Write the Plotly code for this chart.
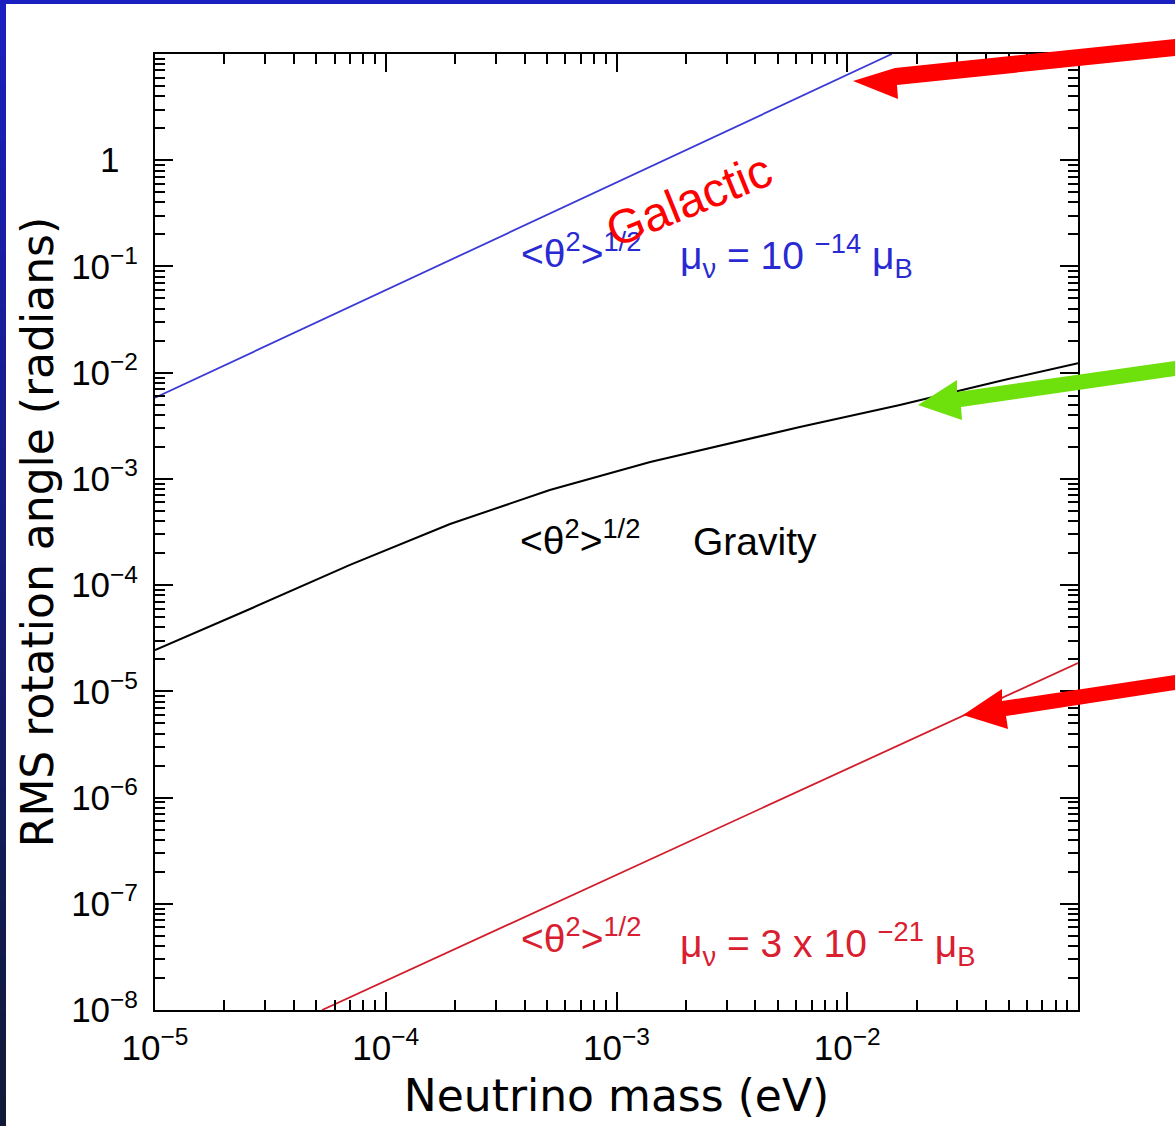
import plotly.graph_objects as go

# ---------------- data ----------------
galactic_mass = [1e-5, 1.56e-2]
galactic_theta = [5.8e-3, 10.0]

gravity_mass = [1e-5, 2.58e-5, 7.0e-5, 1.9e-4, 5.14e-4, 1.4e-3, 6.23e-3, 1.69e-2, 4.58e-2, 1e-1]
gravity_theta = [2.45e-5, 5.96e-5, 1.55e-4, 3.76e-4, 7.85e-4, 1.44e-3, 3.08e-3, 4.96e-3, 8.35e-3, 1.23e-2]

magnetic_mass = [5.3e-5, 1e-1]
magnetic_theta = [1e-8, 1.85e-5]

x_tickvals = [1e-5, 1e-4, 1e-3, 1e-2, 1e-1]
x_ticktext = ["10<sup>\u22125</sup>", "10<sup>\u22124</sup>", "10<sup>\u22123</sup>", "10<sup>\u22122</sup>", ""]
y_tickvals = [1e-8, 1e-7, 1e-6, 1e-5, 1e-4, 1e-3, 1e-2, 1e-1, 1, 10]
y_ticktext = ["10<sup>\u22128</sup>", "10<sup>\u22127</sup>", "10<sup>\u22126</sup>", "10<sup>\u22125</sup>",
              "10<sup>\u22124</sup>", "10<sup>\u22123</sup>", "10<sup>\u22122</sup>", "10<sup>\u22121</sup>",
              "1<sup>\u2007\u2009</sup>", ""]
x_minor = [m * 10.0 ** e for e in range(-5, -1) for m in range(2, 10)]
y_minor = [m * 10.0 ** e for e in range(-8, 1) for m in range(2, 10)]

# ---------------- layout geometry ----------------
W, H = 1175, 1126
L, R, T, B = 155, 1078, 54, 1010


def px(xp, yp):
    return (xp - L) / (R - L), (B - yp) / (B - T)


fig = go.Figure()
fig.add_trace(go.Scatter(x=galactic_mass, y=galactic_theta, mode="lines",
                         line=dict(color="#3a3ad6", width=1.8), showlegend=False))
fig.add_trace(go.Scatter(x=gravity_mass, y=gravity_theta, mode="lines",
                         line=dict(color="black", width=2), showlegend=False))
fig.add_trace(go.Scatter(x=magnetic_mass, y=magnetic_theta, mode="lines",
                         line=dict(color="#d21c2a", width=1.8), showlegend=False))

shapes = []
# slide frame: top band and left gradient strip
x0, y0 = px(0, 0)
x1, y1 = px(W, 4)
shapes.append(dict(type="rect", xref="paper", yref="paper", x0=x0, x1=x1, y0=y1, y1=y0,
                   fillcolor="#1b1fbf", line=dict(width=0), layer="above"))
n = 40
c_top = (27, 31, 191)
c_bot = (16, 26, 54)
for i in range(n):
    t = i / (n - 1)
    c = tuple(int(round(c_top[k] + (c_bot[k] - c_top[k]) * t)) for k in range(3))
    ya = H * i / n
    yb = H * (i + 1) / n + 1
    ax0, ay0 = px(0, ya)
    ax1, ay1 = px(6, yb)
    shapes.append(dict(type="rect", xref="paper", yref="paper", x0=ax0, x1=ax1, y0=ay1, y1=ay0,
                       fillcolor="rgb(%d,%d,%d)" % c, line=dict(width=0), layer="above"))


def poly(points, color):
    pts = [px(a, b) for a, b in points]
    path = "M " + " L ".join("%f,%f" % p for p in pts) + " Z"
    return dict(type="path", xref="paper", yref="paper", path=path,
                fillcolor=color, line=dict(width=0), layer="above")


# arrows
shapes.append(poly([(1175, 39), (895, 68), (853, 81), (898, 99), (897, 85), (1175, 56)], "#ff0000"))
shapes.append(poly([(1175, 361), (957, 392), (957, 380), (918, 405), (962, 420), (961, 407), (1175, 376)], "#6ee00c"))
shapes.append(poly([(1175, 675), (1002, 701), (1002, 689), (963, 715), (1008, 729), (1006, 716), (1175, 690)], "#ff0000"))

annotations = []
FONT = "Liberation Sans, Arial, sans-serif"


def label(text, xp, yp, color, size=39, anchor="left", angle=0):
    xa, ya = px(xp, yp)
    annotations.append(dict(text=text, x=xa, y=ya, xref="paper", yref="paper", showarrow=False,
                            xanchor=anchor, yanchor="middle", textangle=angle,
                            font=dict(family=FONT, size=size, color=color)))


theta = "&lt;\u03b8<sup>2</sup>&gt;<sup>1/2</sup>"
label(theta, 519, 250, "#2a2ad2")
label("\u03bc<sub>\u03bd</sub> = 10 <sup>\u221214</sup> \u03bc<sub>B</sub>", 678, 256, "#2a2ad2")
label(theta, 518, 537, "black")
label("Gravity", 691, 541, "black")
label(theta, 519, 935, "#d82030")
label("\u03bc<sub>\u03bd</sub> = 3 x 10 <sup>\u221221</sup> \u03bc<sub>B</sub>", 678, 944, "#d82030")
label("Galactic", 688, 200, "#ff0000", size=48, anchor="center", angle=-22)

axis_common = dict(type="log", showline=True, linewidth=2, linecolor="black", mirror="ticks",
                   ticks="inside", ticklen=18, tickwidth=2, tickcolor="black", showgrid=False,
                   zeroline=False, tickfont=dict(family=FONT, size=35, color="black"))

fig.update_layout(
    width=W, height=H,
    margin=dict(l=L, r=W - R, t=T, b=H - B, pad=0),
    paper_bgcolor="white", plot_bgcolor="white",
    shapes=shapes, annotations=annotations,
    xaxis=dict(range=[-5, -1], tickvals=x_tickvals, ticktext=x_ticktext,
               minor=dict(tickvals=x_minor, ticks="inside", ticklen=10, tickwidth=1.5,
                          tickcolor="black", showgrid=False),
               title=dict(text="Neutrino mass (eV)", standoff=14,
                          font=dict(family="DejaVu Sans, sans-serif", size=44, color="black")),
               ticklabelstandoff=6, **axis_common),
    yaxis=dict(range=[-8, 1], tickvals=y_tickvals, ticktext=y_ticktext,
               minor=dict(tickvals=y_minor, ticks="inside", ticklen=10, tickwidth=1.5,
                          tickcolor="black", showgrid=False),
               title=dict(text="RMS rotation angle (radians)", standoff=4,
                          font=dict(family="DejaVu Sans, sans-serif", size=44, color="black")),
               ticklabelstandoff=8, **axis_common),
)

fig.write_html("out.html")
